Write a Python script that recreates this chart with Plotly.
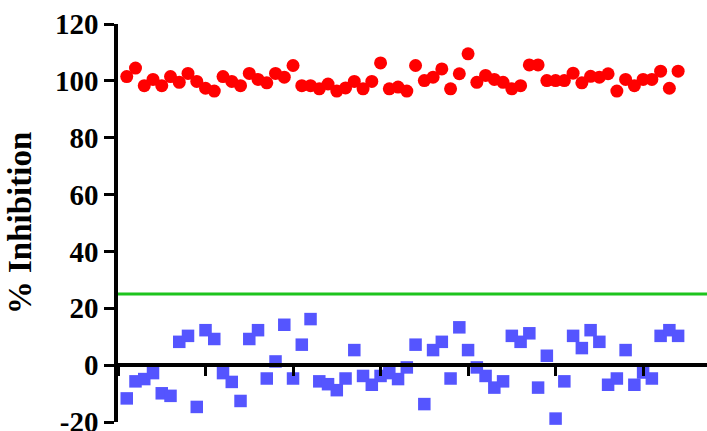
import plotly.graph_objects as go

# Compound index along the plate
well_index = list(range(1, 65))

# % inhibition of positive controls (red) and test wells (blue)
positive_ctrl = [
    101.5, 104.5, 98.3, 100.5, 98.3, 101.5, 99.5, 102.6, 99.8, 97.4,
    96.4, 101.5, 99.8, 98.3, 102.6, 100.5, 99.3, 102.6, 101.3, 105.4,
    98.3, 98.3, 97.2, 98.9, 96.4, 97.5, 99.8, 97.2, 99.8, 106.3,
    97.2, 97.8, 96.4, 105.4, 100.1, 101.3, 104.2, 97.2, 102.5, 109.5,
    99.5, 101.9, 100.5, 99.5, 97.2, 98.3, 105.6, 105.6, 100.1, 100.1,
    100.1, 102.7, 99.3, 101.6, 101.3, 102.5, 96.4, 100.5, 98.3, 100.5,
    100.5, 103.4, 97.4, 103.4,
]
test_wells = [
    -11.7, -5.7, -4.9, -2.8, -9.9, -10.8, 8.2, 10.3, -14.7, 12.3,
    9.2, -2.8, -5.9, -12.6, 9.2, 12.3, -4.7, 1.3, 14.2, -4.7,
    7.2, 16.2, -5.7, -6.7, -8.8, -4.7, 5.3, -3.8, -6.9, -3.8,
    -2.8, -4.9, -0.8, 7.2, -13.7, 5.3, 8.2, -4.7, 13.3, 5.3,
    -0.8, -3.8, -7.9, -5.7, 10.3, 8.2, 11.2, -7.9, 3.3, -18.8,
    -5.7, 10.3, 6.0, 12.3, 8.2, -6.9, -4.7, 5.3, -6.9, -2.6,
    -4.7, 10.3, 12.3, 10.3,
]

# Hit threshold
hit_cutoff = 25

# Y-axis ticks (plain hyphen for negatives)
y_tick_vals = [-20, 0, 20, 40, 60, 80, 100, 120]
y_tick_text = ["-20", "0", "20", "40", "60", "80", "100", "120"]

y_min, y_max = -20, 120
x_max = 67.3

fig = go.Figure()

fig.add_trace(go.Scatter(
    x=well_index, y=positive_ctrl, mode="markers",
    marker=dict(symbol="circle", size=13, color="#FF0000", line=dict(width=0)),
    showlegend=False, cliponaxis=False,
))
fig.add_trace(go.Scatter(
    x=well_index, y=test_wells, mode="markers",
    marker=dict(symbol="square", size=12.5, color="#5555FF", line=dict(width=0)),
    showlegend=False, cliponaxis=False,
))

fig.add_shape(
    type="line", xref="paper", x0=0, x1=1, yref="y", y0=hit_cutoff, y1=hit_cutoff,
    line=dict(color="#1DC41D", width=3), layer="below",
)

fig.update_layout(
    width=707, height=431,
    margin=dict(l=118, r=0, t=24, b=9, autoexpand=False),
    paper_bgcolor="white", plot_bgcolor="white",
    font=dict(family="Liberation Serif", color="#000000"),
    xaxis=dict(
        range=[0, x_max], showgrid=False, zeroline=False, automargin=False,
        showline=True, linecolor="#000000", linewidth=3.5,
        anchor="free", position=(0 - y_min) / (y_max - y_min),
        ticks="outside", tick0=0, dtick=10, ticklen=9, tickwidth=3,
        tickcolor="#000000", showticklabels=False,
    ),
    yaxis=dict(
        range=[y_min, y_max], showgrid=False, zeroline=False, automargin=False,
        showline=True, linecolor="#000000", linewidth=3.5,
        ticks="outside", tickmode="array", tickvals=y_tick_vals, ticktext=y_tick_text,
        ticklen=10, tickwidth=3,
        tickcolor="#000000", ticklabeloverflow="allow",
        tickfont=dict(family="Liberation Serif", size=29, color="#000000", weight="bold"),
        title=dict(text="% Inhibition", standoff=14,
                   font=dict(family="Liberation Serif", size=33, color="#000000", weight="bold")),
    ),
)

fig.write_html("out.html")
